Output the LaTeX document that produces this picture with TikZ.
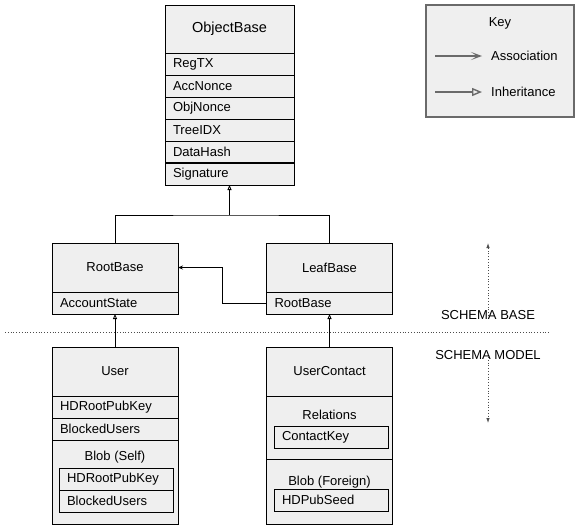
\documentclass[tikz,border=0pt]{standalone}
\usepackage{fontspec}
\setmainfont{Liberation Sans}
\usetikzlibrary{positioning, arrows.meta, calc}
\definecolor{boxgray}{HTML}{EFEFEF}
\definecolor{keygray}{HTML}{6A6A6A}

\begin{document}
\begin{tikzpicture}[x=1pt, y=-1pt,
    every node/.style={font=\fontsize{13}{15}\selectfont},
    cls/.style={draw, fill=boxgray, line width=0.8pt, minimum width=126pt, minimum height=49pt, inner sep=0pt, outer sep=0pt},
    fld/.style={draw, fill=boxgray, line width=0.8pt, text width=110pt, align=left, inner xsep=8pt, inner ysep=0pt, outer sep=0pt, minimum height=22pt},
    sub/.style={fld, text width=98pt},
    sect/.style={draw, fill=boxgray, line width=0.8pt, minimum width=126pt, inner sep=0pt, outer sep=0pt},
    inherit/.style={line width=0.8pt, -{Triangle[open, length=5pt, width=4pt]}},
    assoc/.style={line width=0.8pt, -{Stealth[length=5pt, width=4pt]}},
    tier/.style={dotted, line width=0.8pt, black!70, -{Latex[length=5pt, width=3.5pt]}}]
  \useasboundingbox (0,0) rectangle (580,531);

  \node[cls, minimum width=129pt, minimum height=48pt, font=\fontsize{14.5}{17}\selectfont] (objbase) at (229.5,29) {ObjectBase};
  \node[fld, text width=113pt, below=0pt of objbase] (regtx) {RegTX};
  \node[fld, text width=113pt, below=0pt of regtx] (accnonce) {AccNonce};
  \node[fld, text width=113pt, below=0pt of accnonce] (objnonce) {ObjNonce};
  \node[fld, text width=113pt, below=0pt of objnonce] (treeidx) {TreeIDX};
  \node[fld, text width=113pt, below=0pt of treeidx] (datahash) {DataHash};
  \node[fld, text width=113pt, below=0pt of datahash] (signature) {Signature};
  \draw[line width=1.8pt] (datahash.south west) -- (datahash.south east);

  \node[cls] (rootbase) at (115,267.5) {RootBase};
  \node[fld, below=0pt of rootbase] (acctstate) {AccountState};

  \node[cls] (leafbase) at (329.5,267.5) {LeafBase};
  \node[fld, below=0pt of leafbase] (lbroot) {RootBase};

  \coordinate (inhjoin) at (229.5,215);
  \draw[inherit] (inhjoin) -- (signature.south);
  \draw[line width=0.8pt] (rootbase.north) |- (inhjoin) -| (leafbase.north);
  \draw[assoc] (lbroot.west) -- ++(-44,0) |- (rootbase.east);

  \node[cls] (user) at (115,371.5) {User};
  \node[fld, below=0pt of user] (hdroot) {HDRootPubKey};
  \node[fld, below=0pt of hdroot] (blocked) {BlockedUsers};
  \node[sect, minimum height=84pt, below=0pt of blocked] (selfsect) {};
  \node (selflbl) at (115,457) {Blob (Self)};
  \node[sub] (selfhdroot) at (116,479) {HDRootPubKey};
  \node[sub, below=0pt of selfhdroot] (selfblocked) {BlockedUsers};

  \node[cls] (contact) at (329.5,371.5) {UserContact};
  \node[sect, minimum height=63pt, below=0pt of contact] (relsect) {};
  \node (rellbl) at (329.5,415) {Relations};
  \node[sub] (contactkey) at (331,437) {ContactKey};
  \node[sect, minimum height=65pt, below=0pt of relsect] (foreignsect) {};
  \node (foreignlbl) at (329.5,482) {Blob (Foreign)};
  \node[sub] (hdpubseed) at (331,500) {HDPubSeed};

  \draw[inherit] (user.north) -- (acctstate.south);
  \draw[inherit] (contact.north) -- (lbroot.south);

  \draw[dotted, line width=0.8pt, black!70] (5,332) -- (550,332);
  \node (schemabase) at (488,315) {SCHEMA BASE};
  \node (schemamodel) at (488,355) {SCHEMA MODEL};
  \coordinate (uptop) at (488,243);
  \coordinate (downend) at (488,423);
  \draw[tier] ([yshift=-9pt]schemabase.north) -- (uptop);
  \draw[tier] ([yshift=9pt]schemamodel.south) -- (downend);

  \node[draw=keygray, fill=boxgray, line width=1.4pt, minimum width=148pt, minimum height=112pt] (keybox) at (500,61) {};
  \node (keytitle) at (500,23) {Key};
  \coordinate (assocstart) at (435,56);
  \coordinate (inhstart) at (435,92);
  \node[anchor=west, inner xsep=2pt] (assoclbl) at (489,56) {Association};
  \node[anchor=west, inner xsep=2pt] (inhlbl) at (489,92) {Inheritance};
  \draw[keygray, line width=1.4pt, -{Stealth[length=11pt, width=8pt, inset=6pt]}] (assocstart) -- ([xshift=-7pt]assoclbl.west);
  \draw[keygray, line width=1.4pt, -{Triangle[open, length=10pt, width=8pt]}] (inhstart) -- ([xshift=-7pt]inhlbl.west);
\end{tikzpicture}
\end{document}
